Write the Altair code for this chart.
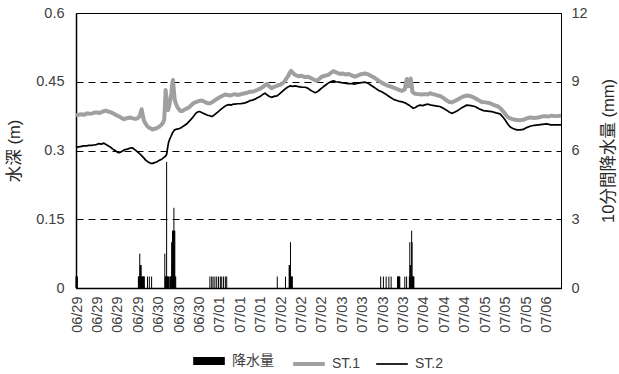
import json
import altair as alt
import pandas as pd

# ---------------- data (hours since 06/29 00:00) ----------------
st1_hours = [0.0, 1.0, 2.0, 3.0, 4.1, 5.0, 6.0, 7.0, 7.8, 8.7, 9.5, 10.2, 10.9, 11.7, 12.5, 13.2, 13.9, 14.8,
             15.8, 16.7, 17.6, 18.3, 19.0, 20.0, 20.8, 21.5, 22.4, 23.2, 23.7, 24.0, 24.4, 24.9, 25.5, 26.1,
             26.7, 27.4, 28.0, 28.6, 29.2, 29.9, 30.5, 31.2, 31.8, 32.3, 32.6, 32.8, 33.0, 33.3, 33.7, 34.1,
             34.5, 34.9, 35.2, 35.5, 35.8, 36.1, 36.5, 37.0, 37.4, 38.3, 39.0, 39.6, 40.7, 41.5, 42.2, 43.2,
             44.1, 45.0, 46.0, 46.8, 47.5, 48.2, 49.0, 50.0, 50.9, 51.7, 52.5, 53.5, 54.5, 55.5, 56.5, 57.4,
             58.2, 59.1, 60.0, 61.0, 61.9, 62.7, 63.5, 64.5, 65.5, 66.3, 67.0, 68.0, 68.9, 69.8, 70.7, 71.6,
             72.5, 73.5, 74.3, 75.0, 75.9, 76.5, 77.1, 77.6, 78.1, 78.7, 79.4, 80.2, 80.9, 81.5, 82.6, 83.3,
             84.0, 84.8, 85.6, 86.3, 87.0, 88.1, 89.0, 89.9, 91.1, 92.3, 93.2, 94.2, 95.4, 96.6, 97.5, 98.6,
             99.7, 100.9, 102.1, 103.3, 104.6, 105.8, 107.0, 108.2, 109.4, 110.6, 111.9, 113.1, 114.3, 115.5,
             116.7, 118.0, 119.2, 120.3, 120.8, 121.1, 121.5, 122.1, 122.5, 122.8, 123.1, 124.0, 125.3, 126.5,
             127.7, 128.6, 129.6, 130.5, 131.4, 132.3, 133.2, 133.8, 134.8, 135.7, 136.6, 137.5, 138.7, 139.9,
             141.4, 143.0, 144.2, 145.4, 147.0, 148.5, 150.0, 151.5, 153.0, 154.5, 155.5, 156.4, 157.3, 158.2,
             159.4, 160.7, 162.2, 163.7, 164.9, 166.2, 167.7, 169.2, 170.4, 171.6, 172.8, 174.1, 175.6, 177.5]
st1_depth = [0.377, 0.378, 0.379, 0.378, 0.381, 0.380, 0.381, 0.383, 0.383, 0.382, 0.384, 0.386, 0.387, 0.385,
             0.384, 0.382, 0.380, 0.377, 0.374, 0.371, 0.368, 0.370, 0.371, 0.372, 0.370, 0.369, 0.370, 0.374,
             0.384, 0.390, 0.378, 0.365, 0.358, 0.353, 0.350, 0.348, 0.346, 0.347, 0.348, 0.350, 0.352, 0.356,
             0.360, 0.368, 0.405, 0.432, 0.420, 0.395, 0.388, 0.397, 0.410, 0.425, 0.445, 0.454, 0.432, 0.412,
             0.403, 0.396, 0.392, 0.386, 0.386, 0.389, 0.392, 0.395, 0.399, 0.404, 0.406, 0.408, 0.409, 0.407,
             0.405, 0.403, 0.403, 0.406, 0.410, 0.413, 0.416, 0.419, 0.422, 0.421, 0.420, 0.422, 0.423, 0.421,
             0.422, 0.424, 0.425, 0.426, 0.428, 0.428, 0.430, 0.432, 0.434, 0.437, 0.441, 0.445, 0.440, 0.436,
             0.439, 0.441, 0.443, 0.444, 0.448, 0.452, 0.458, 0.462, 0.468, 0.474, 0.469, 0.465, 0.463, 0.462,
             0.463, 0.461, 0.460, 0.461, 0.459, 0.457, 0.455, 0.452, 0.456, 0.461, 0.463, 0.465, 0.469, 0.473,
             0.470, 0.467, 0.468, 0.466, 0.467, 0.464, 0.461, 0.464, 0.467, 0.468, 0.466, 0.462, 0.458, 0.453,
             0.448, 0.444, 0.441, 0.439, 0.436, 0.433, 0.430, 0.433, 0.450, 0.456, 0.440, 0.441, 0.457, 0.445,
             0.428, 0.424, 0.423, 0.422, 0.423, 0.422, 0.425, 0.423, 0.422, 0.420, 0.419, 0.417, 0.413, 0.409,
             0.406, 0.405, 0.408, 0.412, 0.417, 0.420, 0.419, 0.416, 0.411, 0.406, 0.405, 0.403, 0.399, 0.396,
             0.391, 0.385, 0.378, 0.372, 0.369, 0.367, 0.366, 0.367, 0.370, 0.372, 0.371, 0.372, 0.374, 0.375,
             0.374, 0.376, 0.375, 0.376]

st2_hours = [0.0, 1.0, 2.0, 2.9, 3.8, 4.7, 5.6, 6.6, 7.5, 8.4, 9.3, 10.2, 11.0, 11.9, 12.7, 13.5, 14.3, 15.0,
             15.7, 16.5, 17.3, 18.0, 18.8, 19.7, 20.6, 21.5, 22.3, 23.1, 24.0, 24.8, 25.5, 26.4, 27.3, 28.1,
             29.0, 29.8, 30.6, 31.4, 32.2, 32.8, 33.2, 33.5, 33.9, 34.3, 34.7, 35.2, 35.7, 36.1, 36.5, 37.4,
             38.3, 39.0, 39.8, 40.7, 41.5, 42.4, 43.2, 43.8, 44.5, 45.2, 46.0, 46.6, 47.4, 48.1, 48.9, 49.7,
             50.5, 51.3, 52.1, 52.9, 53.7, 54.4, 55.2, 56.0, 56.7, 57.5, 58.2, 59.1, 60.0, 61.0, 61.9, 62.8,
             63.7, 64.6, 65.5, 66.4, 67.4, 68.3, 69.2, 70.0, 70.8, 71.6, 72.5, 73.5, 74.4, 75.3, 76.1, 76.9,
             77.7, 78.5, 79.3, 80.2, 81.0, 81.9, 82.9, 83.8, 84.8, 85.7, 86.6, 87.5, 88.3, 89.1, 89.9, 90.5,
             91.4, 92.3, 93.2, 94.2, 95.2, 96.2, 97.2, 98.4, 99.6, 100.8, 102.1, 103.3, 104.5, 105.8, 106.8,
             107.8, 108.8, 109.8, 110.8, 111.9, 113.1, 114.3, 115.3, 116.4, 117.4, 118.4, 119.4, 120.4, 121.3,
             122.1, 122.8, 123.4, 124.2, 125.0, 125.9, 126.9, 127.9, 128.9, 130.0, 131.1, 132.1, 133.2, 134.4,
             135.6, 136.6, 137.5, 138.7, 139.9, 141.4, 143.0, 144.5, 146.0, 147.5, 149.1, 150.6, 152.1, 153.7,
             155.2, 156.1, 157.0, 157.9, 158.8, 159.9, 161.3, 162.5, 163.7, 164.9, 166.2, 167.7, 169.2, 170.7,
             172.3, 173.8, 175.3, 177.5]
st2_depth = [0.307, 0.308, 0.309, 0.310, 0.310, 0.311, 0.311, 0.312, 0.313, 0.315, 0.314, 0.316, 0.313, 0.310,
             0.307, 0.303, 0.300, 0.297, 0.295, 0.297, 0.300, 0.302, 0.303, 0.305, 0.306, 0.302, 0.298, 0.294,
             0.289, 0.284, 0.279, 0.275, 0.272, 0.272, 0.274, 0.276, 0.279, 0.281, 0.285, 0.288, 0.292, 0.305,
             0.318, 0.325, 0.330, 0.337, 0.342, 0.345, 0.346, 0.347, 0.349, 0.352, 0.355, 0.359, 0.364, 0.370,
             0.376, 0.381, 0.384, 0.385, 0.383, 0.381, 0.379, 0.377, 0.376, 0.374, 0.377, 0.381, 0.385, 0.389,
             0.393, 0.396, 0.399, 0.400, 0.399, 0.401, 0.401, 0.402, 0.402, 0.403, 0.404, 0.406, 0.409, 0.410,
             0.412, 0.415, 0.418, 0.422, 0.425, 0.421, 0.418, 0.416, 0.418, 0.419, 0.423, 0.428, 0.432, 0.436,
             0.439, 0.441, 0.440, 0.441, 0.440, 0.439, 0.438, 0.438, 0.436, 0.432, 0.429, 0.426, 0.428, 0.432,
             0.436, 0.439, 0.443, 0.447, 0.450, 0.452, 0.450, 0.449, 0.448, 0.447, 0.446, 0.446, 0.445, 0.447,
             0.448, 0.449, 0.447, 0.443, 0.439, 0.435, 0.431, 0.428, 0.424, 0.419, 0.415, 0.411, 0.409, 0.407,
             0.406, 0.404, 0.401, 0.398, 0.395, 0.392, 0.394, 0.397, 0.399, 0.398, 0.400, 0.401, 0.399, 0.398,
             0.397, 0.396, 0.392, 0.388, 0.384, 0.381, 0.384, 0.388, 0.394, 0.399, 0.398, 0.396, 0.391, 0.387,
             0.386, 0.385, 0.382, 0.380, 0.374, 0.367, 0.359, 0.352, 0.348, 0.345, 0.345, 0.346, 0.350, 0.353,
             0.355, 0.356, 0.357, 0.358, 0.356, 0.356, 0.356]

# 10-minute rainfall: index of 10-minute step since 06/29 00:00, and amount (mm)
rain_step = [0, 1, 2, 3,
             137, 138, 139, 140, 141, 142, 143, 144, 145, 146, 147, 148, 149, 150,
             157, 161, 166,
             195, 196, 197, 198, 199, 200, 201, 202, 203,
             206, 207, 208, 209, 210, 211, 212, 213, 214, 215, 216, 217, 218, 219,
             294, 298, 301, 305, 309, 313, 317, 320, 324, 328, 331,
             442, 460,
             468, 469, 470, 471, 472, 473, 474, 475,
             669, 675, 681, 687, 692,
             706, 707, 708, 709, 710, 711,
             722, 726,
             732, 733, 734, 735, 736, 737, 738, 739, 740, 741, 742]
rain_mm = [0.5, 0.5, 0.5, 0.5,
           0.5, 0.5, 0.5, 1.5, 1.0, 1.0, 1.0, 0.5, 0.5, 0.5, 0.5, 0.5, 0.5, 0.5,
           0.5, 0.5, 0.5,
           1.5, 0.5, 0.5, 0.5, 5.5, 0.5, 0.5, 0.5, 0.5,
           0.5, 0.5, 0.5, 0.5, 2.0, 1.0, 2.5, 2.5, 2.5, 3.5, 2.5, 2.5, 0.5, 0.5,
           0.5, 0.5, 0.5, 0.5, 0.5, 0.5, 0.5, 0.5, 0.5, 0.5, 0.5,
           0.5, 0.5,
           1.0, 1.0, 1.0, 2.0, 0.5, 0.5, 0.5, 0.5,
           0.5, 0.5, 0.5, 0.5, 0.5,
           0.5, 0.5, 0.5, 0.5, 0.5, 0.5,
           0.5, 0.5,
           0.5, 2.0, 1.0, 1.0, 0.5, 2.5, 2.0, 0.5, 0.5, 0.5, 0.5]

x_labels = ["06/29", "06/29", "06/29", "06/29", "06/30", "06/30", "06/30", "07/01", "07/01", "07/01",
            "07/02", "07/02", "07/02", "07/03", "07/03", "07/03", "07/03", "07/04", "07/04", "07/04",
            "07/05", "07/05", "07/05", "07/06"]
tick_start = 0.37
tick_step = 7.47
x_ticks = [round(tick_start + tick_step * i, 3) for i in range(len(x_labels))]

series_names = ["降水量", "ST.1", "ST.2"]
series_colors = ["#000000", "#A0A0A0", "#000000"]
series_widths = [8, 4, 1.7]

depth_ticks = [0, 0.15, 0.3, 0.45, 0.6]
depth_labels = ["0", "0.15", "0.3", "0.45", "0.6"]
rain_ticks = [0, 3, 6, 9, 12]

# ---------------- tables ----------------
lines_df = pd.concat([
    pd.DataFrame({"hour": st1_hours, "depth": st1_depth, "series": "ST.1"}),
    pd.DataFrame({"hour": st2_hours, "depth": st2_depth, "series": "ST.2"}),
], ignore_index=True)
rain_df = pd.DataFrame({"hour": [s / 6 for s in rain_step], "mm": rain_mm, "series": "降水量"})

FONT = "Liberation Sans, Noto Sans CJK JP, sans-serif"
LABEL_COLOR = "#404040"

legend = alt.Legend(
    title=None, orient="none", legendX=113, legendY=328, direction="horizontal", columns=3,
    symbolType="stroke", symbolSize=1000, labelFont=FONT, labelFontSize=14, labelColor=LABEL_COLOR,
    labelOffset=3, columnPadding=11, padding=0,
)
color_scale = alt.Scale(domain=series_names, range=series_colors)

x_enc = alt.X(
    "hour:Q",
    scale=alt.Scale(domain=[0, 177.5], nice=False, zero=False),
    axis=alt.Axis(
        values=x_ticks, title=None, ticks=False, grid=False, labelAngle=-90, labelAlign="right",
        labelBaseline="middle", labelPadding=8, labelFont=FONT, labelFontSize=14.5, labelColor=LABEL_COLOR,
        labelExpr=f"{json.dumps(x_labels)}[round((datum.value - {tick_start}) / {tick_step})]",
        domainColor="black", domainWidth=1.5, labelOverlap=False, labelBound=False, labelFlush=False,
    ),
)

rain = alt.Chart(rain_df).mark_rule(strokeWidth=1).encode(
    x=x_enc,
    y=alt.Y("mm:Q", scale=alt.Scale(domain=[0, 12], nice=False),
            axis=alt.Axis(orient="right", values=rain_ticks, title="10分間降水量 (mm)", ticks=False, grid=False,
                          labelPadding=10, labelFont=FONT, labelFontSize=14.5, labelColor=LABEL_COLOR,
                          domainColor="black", domainWidth=1,
                          titleFont=FONT, titleFontSize=16.5, titleFontWeight="normal", titleColor="#262626",
                          titleAngle=270, titleX=47, titleY=137.5, titleBaseline="middle", titleAlign="center")),
    y2=alt.datum(0),
    color=alt.Color("series:N", scale=color_scale, legend=legend),
)

lines = alt.Chart(lines_df).mark_line(strokeJoin="round").encode(
    x=x_enc,
    y=alt.Y("depth:Q", scale=alt.Scale(domain=[0, 0.6], nice=False),
            axis=alt.Axis(orient="left", values=depth_ticks, title="水深 (m)", ticks=False,
                          labelExpr=f"{json.dumps(depth_labels)}[round(datum.value / 0.15)]",
                          grid=True, gridColor="black", gridDash=[7, 5], gridWidth=1.2,
                          labelPadding=12, labelFont=FONT, labelFontSize=14.5, labelColor=LABEL_COLOR,
                          domainColor="black", domainWidth=1.5,
                          titleFont=FONT, titleFontSize=16.5, titleFontWeight="normal", titleColor="#262626",
                          titleAngle=270, titleX=-62, titleY=137.5, titleBaseline="middle", titleAlign="center")),
    color=alt.Color("series:N", scale=color_scale, legend=legend),
    strokeWidth=alt.StrokeWidth("series:N",
                                scale=alt.Scale(type="ordinal", domain=series_names, range=series_widths),
                                legend=legend),
)

chart = alt.layer(rain, lines).resolve_scale(y="independent").properties(
    width=485, height=275,
    autosize=alt.AutoSizeParams(type="none"),
    padding={"left": 76, "top": 13, "right": 58, "bottom": 86},
    background="white",
).configure_view(stroke="black", strokeWidth=1)

chart.save("out.html", embed_options={"renderer": "svg", "actions": False})
